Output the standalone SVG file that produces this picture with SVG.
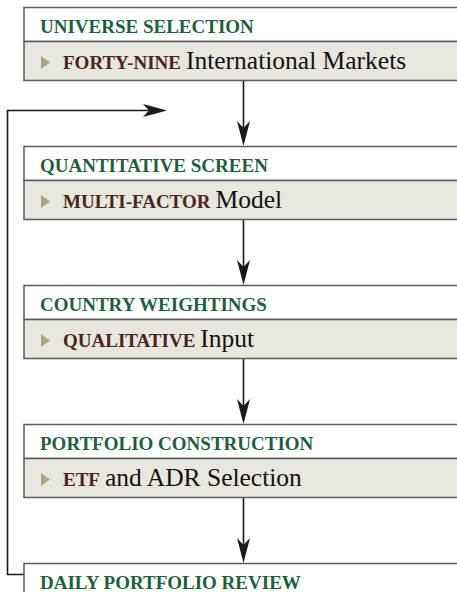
<svg xmlns="http://www.w3.org/2000/svg" width="457" height="592" viewBox="0 0 457 592">
<style>
text{font-family:"Liberation Serif","Times New Roman",serif}
.hdr{fill:#ffffff;stroke:#5a5a5a;stroke-width:1.5}
.row{fill:#e8e7df;stroke:#5a5a5a;stroke-width:1.5}
.ht{font-family:"Liberation Serif","Times New Roman",serif;font-weight:bold;font-size:19px;fill:#1d5f3e}
.kb{font-family:"Liberation Serif","Times New Roman",serif;font-weight:bold;font-size:19px;fill:#4a2420}
.kt{font-family:"Liberation Serif","Times New Roman",serif;font-weight:normal;font-size:25.5px;fill:#111111}
.tri{fill:#aba583}
.ln{fill:none;stroke:#1a1a1a;stroke-width:1.6}
.ah{fill:#1a1a1a}
</style>
<g id="connectors">
<path class="ln" d="M243.5 81V130"/>
<path class="ah" d="M243.5 146L250 121L243.5 128L237 121Z"/>
<path class="ln" d="M243.5 220V269"/>
<path class="ah" d="M243.5 285L250 260L243.5 267L237 260Z"/>
<path class="ln" d="M243.5 359V408"/>
<path class="ah" d="M243.5 424L250 399L243.5 406L237 399Z"/>
<path class="ln" d="M243.5 498V547"/>
<path class="ah" d="M243.5 563L250 538L243.5 545L237 538Z"/>
<path class="ln" d="M24 574.5H7.5V110.5H150"/>
<path class="ah" d="M167 110.5L143 104L149 110.5L143 117Z"/>
</g>
<g id="n1">
<rect class="hdr" x="24" y="7.5" width="450" height="34"/>
<rect class="row" x="24" y="41.5" width="450" height="39"/>
<text class="ht" x="40" y="33">UNIVERSE SELECTION</text>
<path class="tri" d="M41 56L50 62.5L41 69Z"/>
<text x="63" y="69"><tspan class="kb">FORTY-NINE</tspan><tspan class="kt" dx="5">International Markets</tspan></text>
</g>
<g id="n2">
<rect class="hdr" x="24" y="146.5" width="450" height="34"/>
<rect class="row" x="24" y="180.5" width="450" height="39"/>
<text class="ht" x="40" y="172">QUANTITATIVE SCREEN</text>
<path class="tri" d="M41 195L50 201.5L41 208Z"/>
<text x="63" y="208"><tspan class="kb">MULTI-FACTOR</tspan><tspan class="kt" dx="5">Model</tspan></text>
</g>
<g id="n3">
<rect class="hdr" x="24" y="285.5" width="450" height="34"/>
<rect class="row" x="24" y="319.5" width="450" height="39"/>
<text class="ht" x="40" y="311">COUNTRY WEIGHTINGS</text>
<path class="tri" d="M41 334L50 340.5L41 347Z"/>
<text x="63" y="347"><tspan class="kb">QUALITATIVE</tspan><tspan class="kt" dx="5">Input</tspan></text>
</g>
<g id="n4">
<rect class="hdr" x="24" y="424.5" width="450" height="34"/>
<rect class="row" x="24" y="458.5" width="450" height="39"/>
<text class="ht" x="40" y="450">PORTFOLIO CONSTRUCTION</text>
<path class="tri" d="M41 473L50 479.5L41 486Z"/>
<text x="63" y="486"><tspan class="kb">ETF</tspan><tspan class="kt" dx="5">and ADR Selection</tspan></text>
</g>
<g id="n5">
<rect class="hdr" x="24" y="563.5" width="450" height="40"/>
<text class="ht" x="40" y="589">DAILY PORTFOLIO REVIEW</text>
</g>
</svg>
